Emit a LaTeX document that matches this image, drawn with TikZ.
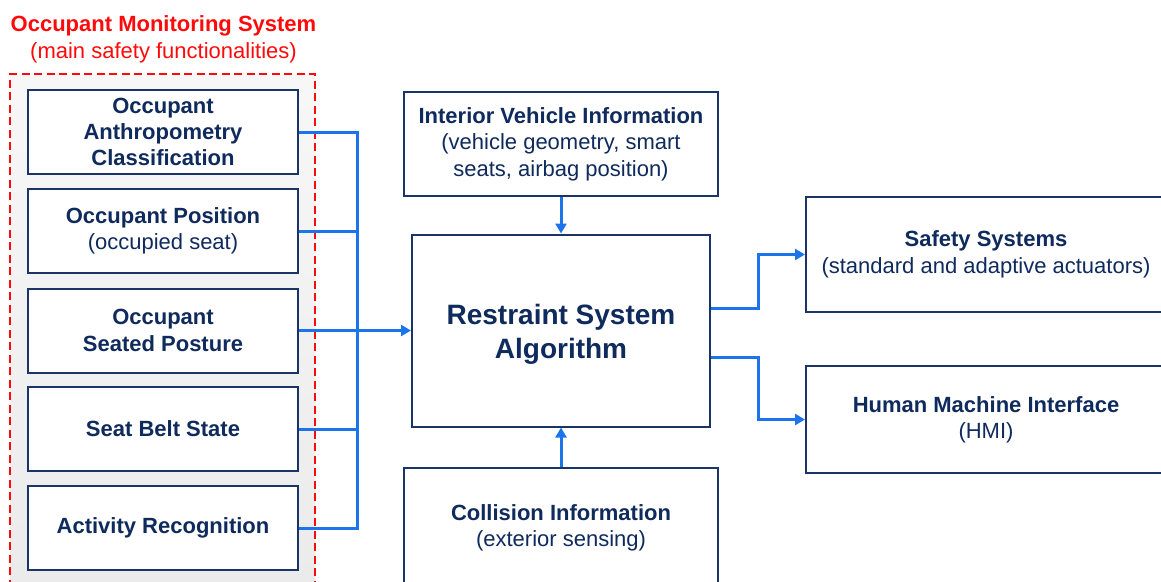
\documentclass[tikz,border=0pt]{standalone}
\usepackage{fontspec}
\setmainfont{Liberation Sans}
\usetikzlibrary{arrows.meta,calc}
\definecolor{navy}{HTML}{0F2A5C}
\definecolor{edge}{HTML}{1B3468}
\definecolor{wire}{HTML}{1C74EC}
\definecolor{alert}{HTML}{FF0A0A}
\tikzset{
  box/.style={draw=edge, line width=2pt, fill=white, text=navy, align=center,
    inner sep=2pt, font=\fontsize{22}{26.4}\selectfont},
  leftbox/.style={box, minimum width=270pt, minimum height=84pt},
  conn/.style={draw=wire, line width=3pt},
  arr/.style={conn, -{Triangle[length=10pt,width=11pt]}},
}
\begin{document}
\begin{tikzpicture}[x=1pt,y=-1pt]
\useasboundingbox (0,0) rectangle (1161,581);
\clip (0,0) rectangle (1161,581);

% monitoring system frame
\shade[top color=gray!6, bottom color=gray!16] (10,74) rectangle (315,600);
\draw[alert, line width=2pt, dash pattern=on 8pt off 4.5pt] (10,600) -- (10,74) -- (315,74) -- (315,600);
\node[text=alert, font=\fontsize{22}{26.4}\selectfont\bfseries] (omstitle) at (163.5,26) {Occupant Monitoring System};
\node[text=alert, font=\fontsize{22}{26.4}\selectfont] (omssub) at (163.5,53) {(main safety functionalities)};

% functionalities
\node[leftbox] (a1) at (163,132) {\textbf{Occupant}\\\textbf{Anthropometry}\\\textbf{Classification}};
\node[leftbox] (a2) at (163,231) {\textbf{Occupant Position}\\(occupied seat)};
\node[leftbox] (a3) at (163,330.5) {\textbf{Occupant}\\\textbf{Seated Posture}};
\node[leftbox] (a4) at (163,429) {\textbf{Seat Belt State}};
\node[leftbox] (a5) at (163,528) {\textbf{Activity Recognition}};

% central blocks
\node[box, minimum width=314pt, minimum height=104pt] (ivi) at (561,144)
  {\textbf{Interior Vehicle Information}\\(vehicle geometry, smart\\seats, airbag position)};
\node[box, minimum width=298pt, minimum height=192pt,
  label={[yshift=-4pt, text=navy, align=center, font=\fontsize{28}{34}\selectfont\bfseries]center:Restraint System\\Algorithm}]
  (rsa) at (561,330.5) {};
\node[box, minimum width=314pt, minimum height=120pt] (col) at (561,528)
  {\textbf{Collision Information}\\(exterior sensing)};

% outputs
\node[box, minimum width=360pt, minimum height=115pt] (ss) at (986,254.5)
  {\textbf{Safety Systems}\\(standard and adaptive actuators)};
\node[box, minimum width=360pt, minimum height=107pt] (hmi) at (986,419.5)
  {\textbf{Human Machine Interface}\\(HMI)};

% collecting bus
\coordinate (bus) at (357,0);
\draw[conn] (a1.east) -- (a1.east -| bus) -- (a5.east -| bus) -- (a5.east);
\draw[conn] (a2.east) -- (a2.east -| bus);
\draw[conn] (a4.east) -- (a4.east -| bus);
\draw[arr] (a3.east) -- (rsa.west);

% vertical feeds
\draw[arr] (ivi.south) -- (rsa.north);
\draw[arr] (col.north) -- (rsa.south);

% outputs from the algorithm
\coordinate (split) at (758,0);
\draw[arr] ([yshift=22.5pt]rsa.east) -- ([yshift=22.5pt]rsa.east -| split) |- (ss.west);
\draw[arr] ([yshift=-26.5pt]rsa.east) -- ([yshift=-26.5pt]rsa.east -| split) |- (hmi.west);
\end{tikzpicture}
\end{document}
